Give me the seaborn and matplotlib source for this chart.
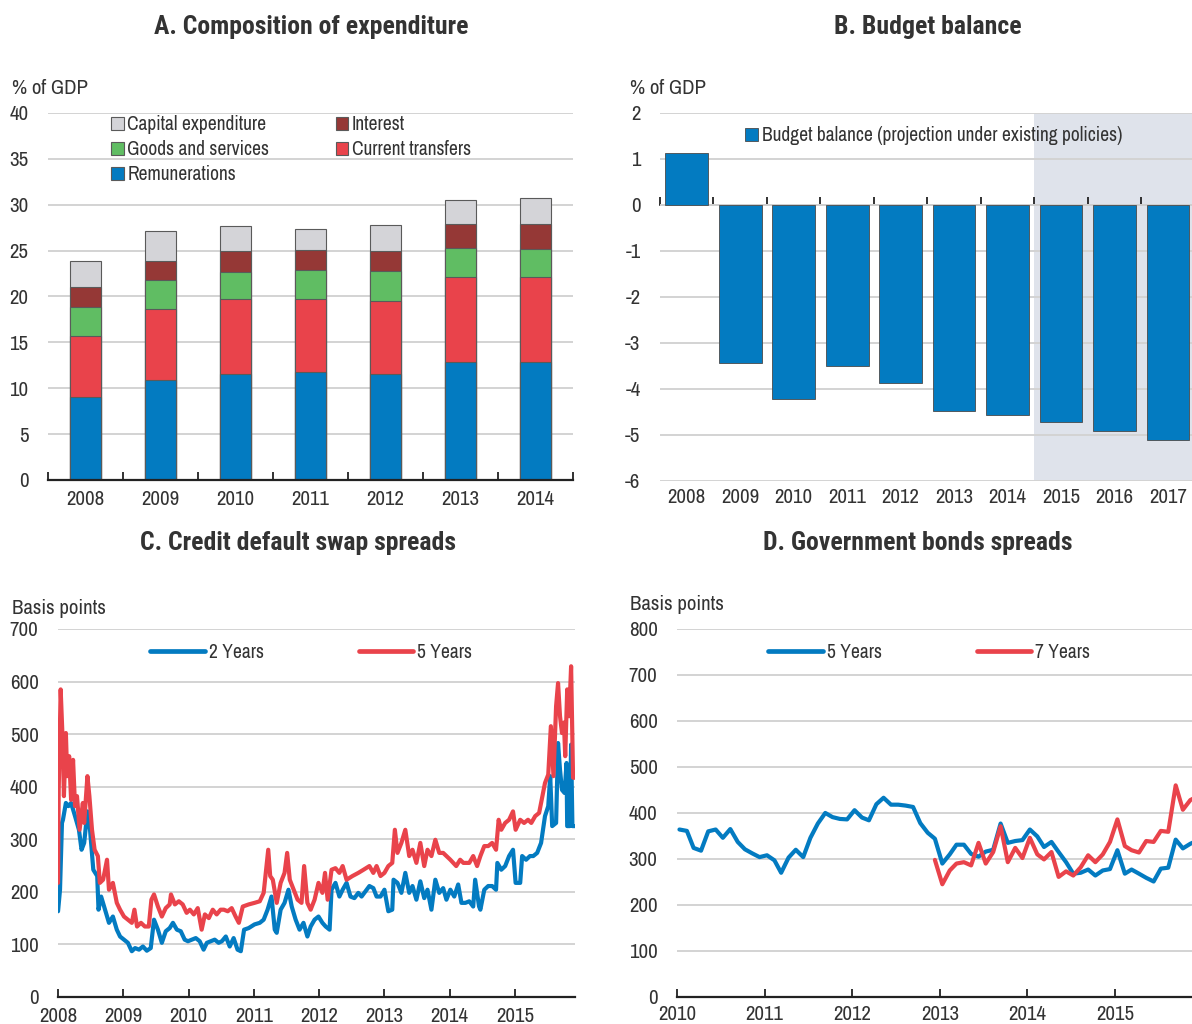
import numpy as np
import pandas as pd
import matplotlib
matplotlib.use("Agg")
import matplotlib.pyplot as plt
import matplotlib.dates as mdates
from matplotlib.patches import Patch
from matplotlib.lines import Line2D
import seaborn as sns

# ---- Panel A: composition of expenditure (% of GDP)
years_a = ["2008", "2009", "2010", "2011", "2012", "2013", "2014"]
remunerations = [9.0, 10.9, 11.6, 11.8, 11.6, 12.9, 12.85]
current_transfers = [6.7, 7.7, 8.1, 7.9, 7.9, 9.2, 9.25]
goods_services = [3.1, 3.2, 3.0, 3.2, 3.3, 3.2, 3.1]
interest = [2.2, 2.1, 2.2, 2.2, 2.1, 2.6, 2.7]
capital_exp = [2.9, 3.2, 2.8, 2.2, 2.9, 2.6, 2.8]

# ---- Panel B: budget balance (% of GDP)
years_b = ["2008", "2009", "2010", "2011", "2012", "2013", "2014", "2015", "2016", "2017"]
budget_balance = [1.13, -3.43, -4.21, -3.49, -3.86, -4.47, -4.56, -4.71, -4.91, -5.10]
projection_from = "2015"

# ---- Panel C: CDS spreads (basis points)
cds2_time = [2008.00, 2008.03, 2008.06, 2008.075, 2008.12, 2008.16, 2008.20, 2008.26, 2008.32, 2008.36,
             2008.40, 2008.45, 2008.49, 2008.54, 2008.60, 2008.62, 2008.66, 2008.72, 2008.78, 2008.84,
             2008.90, 2008.95, 2009.01, 2009.07, 2009.13, 2009.18, 2009.24, 2009.30, 2009.36, 2009.42,
             2009.47, 2009.53, 2009.59, 2009.65, 2009.71, 2009.76, 2009.82, 2009.88, 2009.94, 2009.99,
             2010.05, 2010.11, 2010.17, 2010.23, 2010.28, 2010.34, 2010.40, 2010.46, 2010.51, 2010.57,
             2010.63, 2010.69, 2010.75, 2010.80, 2010.85, 2010.92, 2011.01, 2011.09, 2011.15, 2011.21,
             2011.27, 2011.32, 2011.35, 2011.41, 2011.47, 2011.53, 2011.58, 2011.64, 2011.70, 2011.76,
             2011.82, 2011.87, 2011.93, 2011.99, 2012.05, 2012.10, 2012.16, 2012.19, 2012.25, 2012.31,
             2012.36, 2012.42, 2012.48, 2012.54, 2012.60, 2012.65, 2012.71, 2012.77, 2012.83, 2012.88,
             2012.94, 2013.00, 2013.06, 2013.12, 2013.14, 2013.20, 2013.26, 2013.32, 2013.38, 2013.43,
             2013.49, 2013.55, 2013.61, 2013.66, 2013.72, 2013.78, 2013.84, 2013.90, 2013.95, 2014.01,
             2014.07, 2014.13, 2014.18, 2014.24, 2014.30, 2014.36, 2014.39, 2014.45, 2014.47, 2014.53,
             2014.59, 2014.65, 2014.71, 2014.73, 2014.79, 2014.85, 2014.91, 2014.97, 2015.01, 2015.08,
             2015.11, 2015.17, 2015.23, 2015.28, 2015.34, 2015.40, 2015.46, 2015.51, 2015.54, 2015.57,
             2015.63, 2015.66, 2015.69, 2015.72, 2015.76, 2015.79, 2015.80, 2015.84, 2015.86, 2015.88,
             2015.94]
cds2_vals = [163, 204, 331, 337, 369, 363, 369, 344, 318, 280,
             293, 353, 318, 242, 230, 166, 191, 166, 141, 153,
             128, 115, 109, 103, 87, 93, 90, 96, 88, 93,
             147, 128, 103, 125, 131, 141, 128, 125, 109, 106,
             109, 112, 106, 90, 103, 106, 109, 103, 106, 115,
             96, 112, 90, 87, 128, 131, 138, 141, 147, 166,
             191, 128, 122, 166, 179, 204, 172, 147, 128, 141,
             115, 134, 147, 153, 141, 134, 128, 204, 217, 191,
             204, 217, 191, 188, 198, 191, 201, 211, 207, 191,
             191, 204, 163, 166, 223, 217, 198, 236, 198, 211,
             185, 220, 188, 204, 166, 223, 198, 207, 185, 204,
             191, 214, 179, 179, 182, 172, 223, 172, 166, 204,
             211, 211, 204, 255, 242, 249, 268, 280, 217, 217,
             268, 261, 268, 268, 274, 293, 344, 363, 420, 325,
             331, 483, 432, 394, 388, 445, 325, 325, 480, 325,
             325]

cds5_time = [2008.00, 2008.01, 2008.04, 2008.07, 2008.09, 2008.12, 2008.14, 2008.17, 2008.20, 2008.23,
             2008.26, 2008.29, 2008.33, 2008.38, 2008.40, 2008.45, 2008.48, 2008.52, 2008.56, 2008.61,
             2008.64, 2008.69, 2008.75, 2008.78, 2008.84, 2008.90, 2008.95, 2009.01, 2009.07, 2009.13,
             2009.17, 2009.21, 2009.27, 2009.33, 2009.39, 2009.43, 2009.47, 2009.53, 2009.59, 2009.65,
             2009.71, 2009.73, 2009.79, 2009.85, 2009.91, 2009.97, 2010.02, 2010.08, 2010.14, 2010.20,
             2010.25, 2010.31, 2010.37, 2010.43, 2010.49, 2010.54, 2010.60, 2010.66, 2010.72, 2010.77,
             2010.83, 2010.92, 2011.01, 2011.09, 2011.15, 2011.22, 2011.25, 2011.29, 2011.35, 2011.41,
             2011.47, 2011.51, 2011.55, 2011.61, 2011.67, 2011.73, 2011.77, 2011.82, 2011.87, 2011.93,
             2011.99, 2012.05, 2012.09, 2012.13, 2012.19, 2012.25, 2012.31, 2012.36, 2012.42, 2012.51,
             2012.60, 2012.68, 2012.77, 2012.83, 2012.88, 2012.94, 2013.00, 2013.06, 2013.12, 2013.16,
             2013.20, 2013.26, 2013.32, 2013.38, 2013.43, 2013.49, 2013.55, 2013.61, 2013.66, 2013.72,
             2013.78, 2013.84, 2013.90, 2013.95, 2014.01, 2014.10, 2014.16, 2014.21, 2014.30, 2014.36,
             2014.42, 2014.47, 2014.53, 2014.59, 2014.65, 2014.71, 2014.75, 2014.79, 2014.85, 2014.91,
             2014.97, 2015.01, 2015.08, 2015.14, 2015.20, 2015.25, 2015.31, 2015.37, 2015.42, 2015.46,
             2015.51, 2015.55, 2015.59, 2015.63, 2015.66, 2015.69, 2015.72, 2015.75, 2015.77, 2015.80,
             2015.83, 2015.86, 2015.89, 2015.94]
cds5_vals = [217, 394, 585, 490, 382, 502, 420, 458, 375, 451,
             363, 382, 318, 369, 331, 420, 382, 318, 280, 268,
             217, 223, 261, 204, 217, 179, 166, 153, 147, 141,
             166, 134, 141, 134, 134, 185, 195, 172, 153, 169,
             176, 195, 176, 182, 176, 160, 166, 157, 169, 128,
             157, 150, 166, 157, 166, 166, 163, 169, 153, 141,
             172, 176, 179, 182, 198, 280, 230, 223, 179, 217,
             236, 274, 223, 204, 185, 179, 249, 179, 166, 185,
             217, 198, 236, 185, 242, 245, 236, 249, 223, 230,
             236, 242, 249, 236, 249, 230, 236, 249, 255, 318,
             274, 293, 318, 268, 280, 255, 293, 249, 280, 268,
             299, 274, 274, 268, 261, 249, 261, 255, 255, 268,
             249, 268, 287, 287, 293, 280, 337, 318, 331, 337,
             353, 318, 337, 331, 337, 331, 344, 350, 382, 407,
             423, 515, 420, 553, 597, 534, 502, 522, 458, 585,
             534, 629, 417, 417]

# ---- Panel D: government bond spreads (basis points), monthly Jan 2010 - Dec 2015
bond_5y = [364, 361, 324, 318, 360, 364, 346, 365, 337, 321, 312, 304,
           308, 297, 270, 303, 320, 304, 346, 377, 400, 391, 387, 386,
           406, 390, 384, 419, 433, 418, 418, 416, 413, 378, 357, 344,
           290, 310, 331, 331, 311, 305, 316, 320, 377, 335, 339, 341,
           364, 349, 326, 337, 315, 293, 268, 270, 277, 264, 275, 278,
           319, 268, 277, 268, 259, 251, 279, 281, 342, 323, 333, 340]
bond_7y = [np.nan] * 35 + [298,
           245, 275, 290, 293, 286, 335, 290, 315, 371, 293, 324, 302,
           346, 310, 299, 315, 261, 273, 264, 282, 308, 293, 310, 337,
           386, 328, 319, 314, 339, 337, 361, 359, 460, 407, 428, 436]
bond_months = pd.date_range("2010-01-01", periods=72, freq="MS") + pd.Timedelta(days=10)

BLUE = "#037bc1"
RED = "#e9434b"
GREEN = "#60bd63"
DARKRED = "#953836"
LIGHT = "#d4d4d8"
GRID = "#d3d3d3"
TXT = "#333333"

sns.set_theme(style="white")
plt.rcParams["font.family"] = ["Archivo Narrow", "PT Sans Narrow", "DejaVu Sans"]
plt.rcParams["axes.unicode_minus"] = False
plt.rcParams["text.color"] = TXT
plt.rcParams["xtick.color"] = TXT
plt.rcParams["ytick.color"] = TXT
TITLE_FONT = ["Roboto Condensed", "PT Sans Narrow", "DejaVu Sans"]

TICK_FS = 15
LEG_FS = 14
TITLE_FS = 18.5

fig = plt.figure(figsize=(11.92, 10.24), dpi=100)
ax_a = fig.add_axes([0.0403, 0.5313, 0.4404, 0.3584])
ax_b = fig.add_axes([0.5537, 0.5303, 0.4463, 0.3594])
ax_c = fig.add_axes([0.0487, 0.0264, 0.4337, 0.3594])
ax_d = fig.add_axes([0.5680, 0.0264, 0.4320, 0.3594])


def style_axes(ax, yticks):
    for s in ["top", "right", "left"]:
        ax.spines[s].set_visible(False)
    ax.spines["bottom"].set_color("#222222")
    ax.spines["bottom"].set_linewidth(1.6)
    ax.set_yticks(yticks)
    ax.yaxis.grid(True, color=GRID, linewidth=1.4)
    ax.xaxis.grid(False)
    ax.set_axisbelow(True)
    ax.tick_params(axis="y", length=0, pad=14, labelsize=TICK_FS)
    ax.set_xlabel("")
    ax.set_ylabel("")


# ---- A
parts = [remunerations, current_transfers, goods_services, interest, capital_exp]
colors = [BLUE, RED, GREEN, DARKRED, LIGHT]
names = ["Remunerations", "Current transfers", "Goods and services", "Interest", "Capital expenditure"]
cum = np.cumsum(np.array(parts), axis=0)
for level in range(len(parts) - 1, -1, -1):
    sns.barplot(x=years_a, y=cum[level], color=colors[level], saturation=1, width=0.42,
                edgecolor="#5a5a5a", linewidth=0.8, ax=ax_a)
style_axes(ax_a, np.arange(0, 41, 5))
ax_a.set_ylim(0, 40)
ax_a.set_xlim(-0.5, len(years_a) - 0.5)
ax_a.set_xticks(range(len(years_a)))
ax_a.set_xticklabels(years_a)
ax_a.set_xticks(np.arange(-0.5, len(years_a)), minor=True)
ax_a.tick_params(axis="x", which="major", length=0, pad=7, labelsize=TICK_FS)
ax_a.tick_params(axis="x", which="minor", length=6, width=1.3, direction="in", color="#222222", bottom=True)
handle = {n: Patch(facecolor=c, edgecolor="#5a5a5a", linewidth=0.8) for n, c in zip(names, colors)}
leg_order = ["Capital expenditure", "Goods and services", "Remunerations", "Interest", "Current transfers"]
ax_a.legend([handle[n] for n in leg_order], leg_order, ncol=2, loc="upper left",
            bbox_to_anchor=(0.105, 1.015), frameon=False, fontsize=LEG_FS, handlelength=0.65,
            handleheight=0.65, handletextpad=0.2, columnspacing=3.4, labelspacing=0.3, borderaxespad=0)

# ---- B
proj_idx = years_b.index(projection_from)
ax_b.axvspan(proj_idx - 0.5, len(years_b) - 0.5, color="#dfe3eb", zorder=0, linewidth=0)
sns.barplot(x=years_b, y=budget_balance, color=BLUE, saturation=1, width=0.8,
            edgecolor="#4a4a4a", linewidth=0.6, ax=ax_b, zorder=2)
style_axes(ax_b, np.arange(-6, 3, 1))
ax_b.spines["bottom"].set_visible(False)
ax_b.set_ylim(-6, 2)
ax_b.set_xlim(-0.5, len(years_b) - 0.55)
ax_b.set_xticks(range(len(years_b)))
ax_b.set_xticklabels(years_b)
ax_b.tick_params(axis="x", length=0, pad=5, labelsize=TICK_FS)
zero = ax_b.secondary_xaxis(0.75)
zero.set_xticks(np.arange(-0.5, len(years_b) - 1))
zero.set_xticklabels([])
zero.tick_params(axis="x", direction="out", length=6, width=1.3, color="#222222")
zero.spines["bottom"].set_color("#222222")
zero.spines["bottom"].set_linewidth(1.6)
ax_b.legend([Patch(facecolor=BLUE, edgecolor="#4a4a4a", linewidth=0.6)],
            ["Budget balance (projection under existing policies)"], loc="upper left",
            bbox_to_anchor=(0.146, 0.985), frameon=False, fontsize=LEG_FS, handlelength=0.65,
            handleheight=0.65, handletextpad=0.2, borderaxespad=0)

# ---- C
sns.lineplot(x=cds2_time, y=cds2_vals, color=BLUE, linewidth=3.0, ax=ax_c, sort=False,
             estimator=None)
sns.lineplot(x=cds5_time, y=cds5_vals, color=RED, linewidth=3.0, ax=ax_c, sort=False,
             estimator=None)
style_axes(ax_c, np.arange(0, 701, 100))
ax_c.set_ylim(0, 700)
ax_c.set_xlim(2008, 2015.92)
ax_c.set_xticks(range(2008, 2016))
ax_c.set_xticklabels([str(y) for y in range(2008, 2016)])
ax_c.tick_params(axis="x", length=6, width=1.3, direction="in", color="#222222", pad=7,
                 labelsize=TICK_FS, bottom=True)
ax_c.legend([Line2D([], [], color=BLUE, lw=3.4), Line2D([], [], color=RED, lw=3.4)],
            ["2 Years", "5 Years"], ncol=2, loc="upper center", bbox_to_anchor=(0.49, 1.0),
            frameon=False, fontsize=LEG_FS, handlelength=2.8, handletextpad=0.2,
            columnspacing=4.9, borderaxespad=0.3)

# ---- D
bonds = pd.DataFrame({"month": bond_months, "5 Years": bond_5y, "7 Years": bond_7y})
sns.lineplot(data=bonds, x="month", y="5 Years", color=BLUE, linewidth=3.0, ax=ax_d)
sns.lineplot(data=bonds, x="month", y="7 Years", color=RED, linewidth=3.0, ax=ax_d)
style_axes(ax_d, np.arange(0, 801, 100))
ax_d.set_ylim(0, 800)
ax_d.set_xlim(pd.Timestamp("2010-01-01"), pd.Timestamp("2015-11-18"))
ax_d.xaxis.set_major_locator(mdates.YearLocator())
ax_d.xaxis.set_major_formatter(mdates.DateFormatter("%Y"))
ax_d.tick_params(axis="x", length=6, width=1.3, direction="in", color="#222222", pad=6,
                 labelsize=TICK_FS, bottom=True)
ax_d.legend([Line2D([], [], color=BLUE, lw=3.4), Line2D([], [], color=RED, lw=3.4)],
            ["5 Years", "7 Years"], ncol=2, loc="upper center", bbox_to_anchor=(0.49, 1.0),
            frameon=False, fontsize=LEG_FS, handlelength=2.8, handletextpad=0.2,
            columnspacing=4.9, borderaxespad=0.3)

# ---- titles and unit labels
W, H = 1192, 1024
for x, y, t in [(311, 27, "A. Composition of expenditure"), (928, 27, "B. Budget balance"),
                (298, 543, "C. Credit default swap spreads"), (918, 543, "D. Government bonds spreads")]:
    fig.text(x / W, 1 - y / H, t, ha="center", va="center", fontsize=TITLE_FS, fontweight="bold",
             family=TITLE_FONT)
for x, y, t in [(12, 88, "% of GDP"), (630, 88, "% of GDP"),
                (12, 608, "Basis points"), (630, 605, "Basis points")]:
    fig.text(x / W, 1 - y / H, t, ha="left", va="center", fontsize=TICK_FS)

fig.savefig("out.png", dpi=100)
